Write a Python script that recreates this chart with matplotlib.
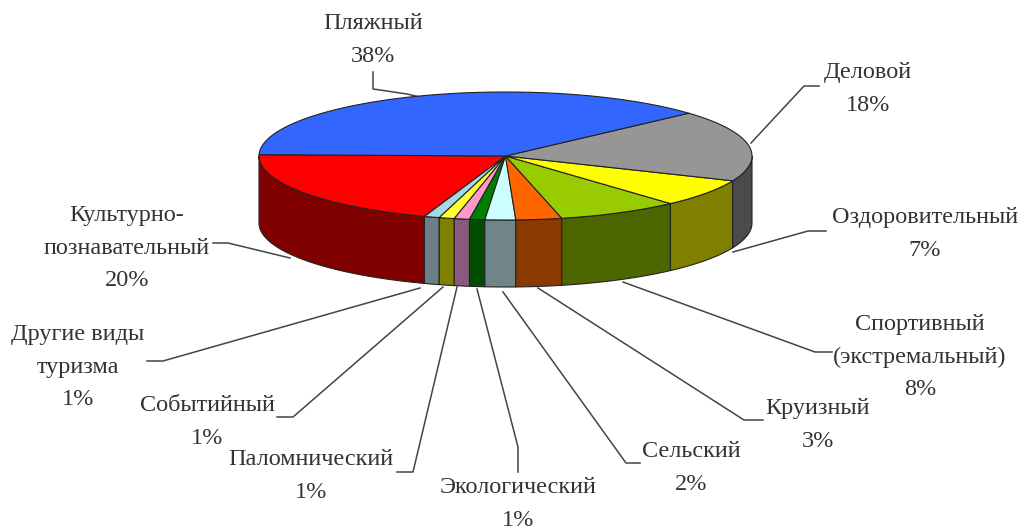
import numpy as np
from matplotlib import pyplot as plt

# slices counter-clockwise from the blue/red border
names = ['Культурно-\nпознавательный', 'Другие виды\nтуризма', 'Событийный', 'Паломнический',
         'Экологический', 'Сельский', 'Круизный', 'Спортивный\n(экстремальный)',
         'Оздоровительный', 'Деловой', 'Пляжный']
shares = [20, 1, 1, 1, 1, 2, 3, 8, 7, 18, 38]
top_colors = ['#ff0000', '#a6d8e6', '#ffff33', '#ff99cc', '#008000', '#ccffff',
              '#ff6600', '#99cc00', '#ffff00', '#969696', '#3366ff']
side_colors = ['#800000', '#6c7f88', '#808000', '#8a5a7c', '#004d00', '#6f8588',
               '#8a3a00', '#4c6600', '#808000', '#4b4b4b', '#1f3a99']

# label centres and leader lines, in picture pixels
label_pos = [(127, 248), (78, 367), (207, 422), (311, 476), (518, 504), (691, 468),
             (818, 425), (920, 357), (925, 234), (868, 89), (373, 40)]
leaders = [
    [(213, 243), (228, 243), (290, 258)],
    [(147, 361), (163, 361), (420, 288)],
    [(277, 417), (293, 417), (443, 287)],
    [(397, 472), (413, 472), (457, 287)],
    [(518, 472), (518, 447), (477, 289)],
    [(640, 463), (626, 463), (503, 292)],
    [(763, 420), (744, 420), (538, 288)],
    [(832, 352), (815, 352), (623, 282)],
    [(826, 231), (808, 231), (733, 252)],
    [(819, 86), (804, 86), (751, 143)],
    [(373, 72), (373, 89), (407, 94), (420, 97)],
]

cx, cy, rx, ry, depth = 505.5, 156, 246.5, 64, 67
start_angle = 178.8

plt.rcParams['font.family'] = ['Liberation Serif', 'DejaVu Serif']

fig = plt.figure(figsize=(10.27, 5.29), dpi=100)
ax = fig.add_axes([0, 0, 1, 1])
ax.set_xlim(0, 1027)
ax.set_ylim(529, 0)
ax.axis('off')


def ellipse_xy(deg):
    t = np.radians(deg)
    return cx + rx * np.cos(t), cy - ry * np.sin(t)


edges = start_angle + np.cumsum([0] + shares) * 3.6

# outer wall, only the front half can be seen
for a, b, c in zip(edges[:-1], edges[1:], side_colors):
    lo, hi = max(a, 180), min(b, 360)
    if lo >= hi:
        continue
    x, y = ellipse_xy(np.linspace(lo, hi, 80))
    ax.fill(np.r_[x, x[::-1]], np.r_[y, y[::-1] + depth], facecolor=c,
            edgecolor='#222222', linewidth=0.8, zorder=2)

# top face
for a, b, c in zip(edges[:-1], edges[1:], top_colors):
    x, y = ellipse_xy(np.linspace(a, b, 120))
    ax.fill(np.r_[cx, x], np.r_[cy, y], facecolor=c, edgecolor='#222222',
            linewidth=0.8, zorder=3)

for pts in leaders:
    xs, ys = zip(*pts)
    ax.plot(xs, ys, color='#444444', linewidth=1.1, zorder=1)

for name, share, (lx, ly) in zip(names, shares, label_pos):
    ax.text(lx, ly, f'{name}\n{share}%', ha='center', va='center', fontsize=17.5,
            color='#333333', linespacing=1.69, zorder=4)

fig.savefig('out.png', dpi=100)
